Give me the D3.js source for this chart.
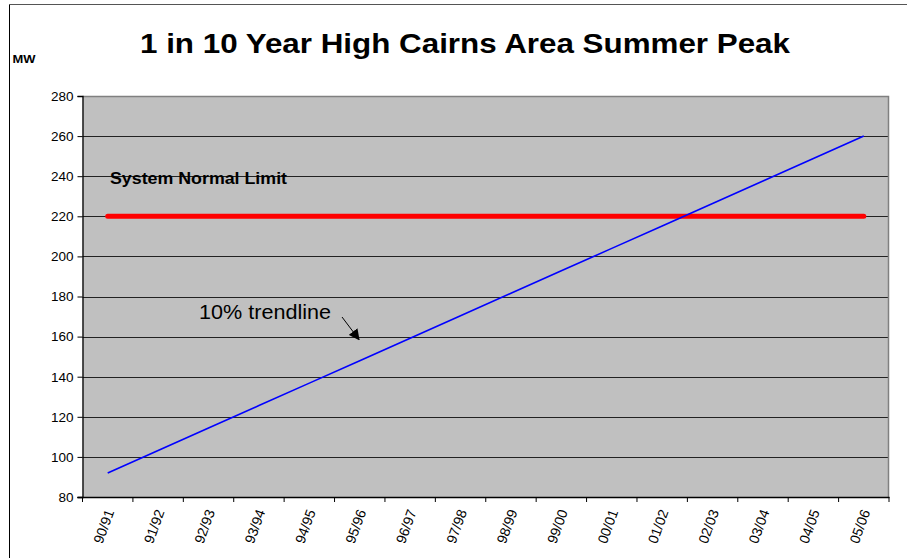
<!DOCTYPE html>
<html>
<head>
<meta charset="utf-8">
<script src="https://cdn.jsdelivr.net/npm/d3@7"></script>
<style>
  html, body { margin: 0; padding: 0; background: #fff; }
  svg { display: block; font-family: "Liberation Sans", Arial, sans-serif; }
</style>
</head>
<body>
<svg id="chart" width="907" height="558"></svg>
<script>
// ---- data ----
const categories = ["90/91","91/92","92/93","93/94","94/95","95/96","96/97","97/98",
                    "98/99","99/00","00/01","01/02","02/03","03/04","04/05","05/06"];
const trendValues = [92, 103.2, 114.4, 125.6, 136.8, 148, 159.2, 170.4,
                     181.6, 192.8, 204, 215.2, 226.4, 237.6, 248.8, 260];
const limitValues = [220, 220, 220, 220, 220, 220, 220, 220,
                     220, 220, 220, 220, 220, 220, 220, 220];
const yTicks = [80, 100, 120, 140, 160, 180, 200, 220, 240, 260, 280];
const titleText = "1 in 10 Year High Cairns Area Summer Peak";
const yUnit = "MW";
const limitLabel = "System Normal Limit";
const trendLabel = "10% trendline";

// ---- layout ----
const svg = d3.select("#chart");
const L = 82.5, R = 889, T = 96, B = 497;

const x = d3.scaleBand().domain(categories).range([L, R]).padding(0);
const y = d3.scaleLinear().domain([80, 280]).range([B, T]);
const cx = d => x(d) + x.bandwidth() / 2;

// outer chart border (left & top)
svg.append("line").attr("x1", 9.5).attr("x2", 9.5).attr("y1", 4.5).attr("y2", 558)
  .attr("stroke", "#000").attr("stroke-width", 1);
svg.append("line").attr("x1", 9).attr("x2", 907).attr("y1", 4.5).attr("y2", 4.5)
  .attr("stroke", "#555").attr("stroke-width", 1.2);

// plot background
svg.append("rect").attr("x", L).attr("y", T).attr("width", R - L).attr("height", B - T)
  .attr("fill", "#C0C0C0");

// gridlines
svg.append("g").selectAll("line").data(yTicks.filter(v => v > 80 && v < 280)).join("line")
  .attr("x1", L).attr("x2", R)
  .attr("y1", d => Math.round(y(d)) + 0.5).attr("y2", d => Math.round(y(d)) + 0.5)
  .attr("stroke", "#222").attr("stroke-width", 1);

// plot border top & right (gray)
svg.append("path")
  .attr("d", `M${L},${T + 0.5}H${R - 0.5}V${B}`)
  .attr("fill", "none").attr("stroke", "#808080").attr("stroke-width", 1.5);

// y axis
const yAxis = d3.axisLeft(y).tickValues(yTicks).tickSize(5).tickPadding(4).tickFormat(d3.format("d"));
const gy = svg.append("g").attr("transform", `translate(${L},0)`).call(yAxis);
gy.select(".domain").attr("stroke", "#000").attr("stroke-width", 1.3);
gy.selectAll(".tick line").attr("stroke", "#000");
gy.selectAll(".tick text").attr("font-size", "13.5px").attr("fill", "#000")
  .attr("font-family", "'Liberation Sans', Arial, sans-serif");

// x axis: ticks at band boundaries
const xAxisG = svg.append("g");
xAxisG.append("line").attr("x1", L - 5).attr("x2", R + 0.5).attr("y1", B + 0.5).attr("y2", B + 0.5)
  .attr("stroke", "#000").attr("stroke-width", 1.3);
const boundaries = categories.map(c => x(c)).concat([R]);
xAxisG.selectAll("line.tk").data(boundaries).join("line").attr("class", "tk")
  .attr("x1", d => d).attr("x2", d => d).attr("y1", B).attr("y2", B + 5)
  .attr("stroke", "#000").attr("stroke-width", 1);
xAxisG.selectAll("text").data(categories).join("text")
  .attr("transform", d => `translate(${cx(d) + 2},${B + 13}) rotate(-70)`)
  .attr("text-anchor", "end").attr("dy", "0.35em")
  .attr("font-size", "14px").attr("fill", "#000")
  .text(d => d);

// limit line
const lineGen = d3.line().x((d, i) => cx(categories[i])).y(d => y(d));
svg.append("path").datum(limitValues).attr("d", lineGen)
  .attr("fill", "none").attr("stroke", "#FF0000").attr("stroke-width", 5)
  .attr("stroke-linecap", "round");

// trend line
svg.append("path").datum(trendValues).attr("d", lineGen)
  .attr("fill", "none").attr("stroke", "#0000FF").attr("stroke-width", 1.6);

// title
svg.append("text").attr("x", 140).attr("y", 53)
  .attr("font-size", "28px").attr("font-weight", "bold").attr("fill", "#000")
  .attr("textLength", 650).attr("lengthAdjust", "spacingAndGlyphs")
  .text(titleText);

// unit label
svg.append("text").attr("x", 12.5).attr("y", 63)
  .attr("font-size", "11px").attr("font-weight", "bold").attr("fill", "#000")
  .attr("textLength", 23).attr("lengthAdjust", "spacingAndGlyphs")
  .text(yUnit);

// limit label
svg.append("text").attr("x", 110).attr("y", 184)
  .attr("font-size", "16px").attr("font-weight", "bold").attr("fill", "#000")
  .attr("textLength", 177).attr("lengthAdjust", "spacingAndGlyphs")
  .text(limitLabel);

// trend label
svg.append("text").attr("x", 199).attr("y", 319)
  .attr("font-size", "20px").attr("fill", "#000")
  .attr("textLength", 132).attr("lengthAdjust", "spacingAndGlyphs")
  .text(trendLabel);

// arrow
const defs = svg.append("defs");
defs.append("marker").attr("id", "arrow").attr("viewBox", "0 0 10 10")
  .attr("refX", 9).attr("refY", 5).attr("markerWidth", 11).attr("markerHeight", 11)
  .attr("markerUnits", "userSpaceOnUse").attr("orient", "auto")
  .append("path").attr("d", "M0,0L10,5L0,10Z").attr("fill", "#000");
svg.append("line").attr("x1", 342).attr("y1", 317).attr("x2", 359).attr("y2", 339.5)
  .attr("stroke", "#000").attr("stroke-width", 1).attr("marker-end", "url(#arrow)");
</script>
</body>
</html>
